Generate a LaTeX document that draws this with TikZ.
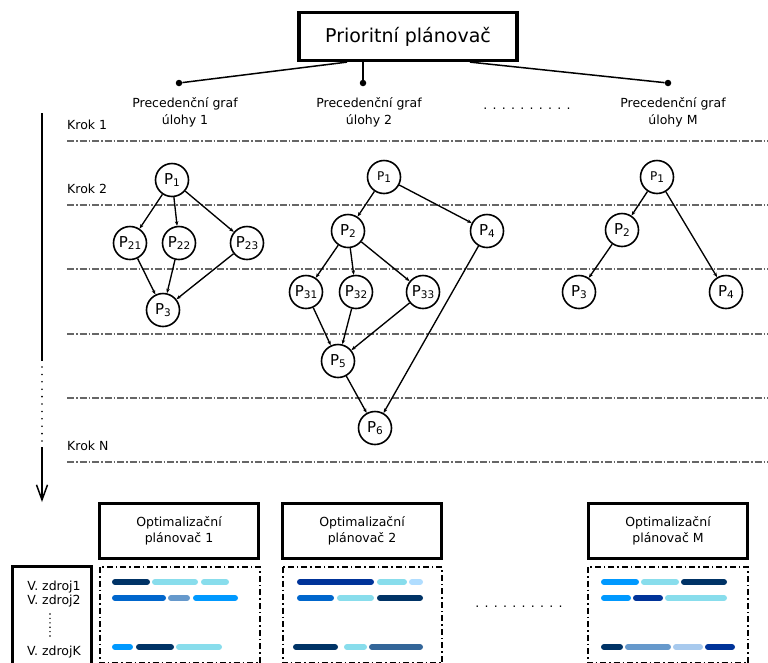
\documentclass[tikz,border=0pt]{standalone}
\usepackage{fontspec}
\setmainfont{DejaVu Sans}
\usetikzlibrary{arrows.meta}

\definecolor{navy}{HTML}{003366}
\definecolor{royal}{HTML}{003399}
\definecolor{midblue}{HTML}{0066CC}
\definecolor{brightblue}{HTML}{0099FF}
\definecolor{steel}{HTML}{6699CC}
\definecolor{slate}{HTML}{336699}
\definecolor{cyanlight}{HTML}{88DDEC}
\definecolor{paleblue}{HTML}{B0DDFF}
\definecolor{palesteel}{HTML}{A8CAEE}
\definecolor{rulegray}{HTML}{666666}

% task label: P with a lowered index
\newcommand\Ptask[1]{P\raisebox{-0.32ex}{\fontsize{10.5}{10.5}\selectfont #1}}
% one scheduled interval on a resource line
\newcommand\gbar[4]{\draw[bar,#1] (#2+3,#4) -- (#3-3,#4);}

\begin{document}
\begin{tikzpicture}[x=1pt,y=-1pt,
  task/.style={circle,draw,line width=1.6pt,minimum size=33pt,inner sep=0pt,
    font=\fontsize{15}{15}\selectfont},
  smalltask/.style={task,font=\fontsize{12}{12}\selectfont},
  edge/.style={line width=1.35pt,-{Stealth[length=4.5pt,width=3.5pt]}},
  rule/.style={rulegray,line width=1.1pt,dash pattern=on 7pt off 2pt on 1.5pt off 2pt},
  txt/.style={font=\fontsize{12.5}{17}\selectfont,align=center,inner sep=0pt},
  optbox/.style={draw,line width=3pt,minimum width=159pt,minimum height=55pt,
    align=center,font=\fontsize{12.5}{16}\selectfont},
  slot/.style={draw,line width=1.8pt,dash pattern=on 6pt off 3pt on 1.5pt off 3pt},
  bar/.style={line width=6pt,line cap=round},
  hub/.style={circle,fill,inner sep=0pt,minimum size=6.5pt},
  wire/.style={line width=1.5pt}]
\useasboundingbox (0,0) rectangle (768,662);

% ---- priority scheduler and its task graphs
\node[draw,line width=3.2pt,minimum width=218pt,minimum height=48pt,
  font=\fontsize{19}{19}\selectfont] (top) at (408,36.5) {Prioritní plánovač};
\node[hub] (d1) at (179,83) {};
\node[hub] (d2) at (363,83) {};
\node[hub] (dM) at (668,83) {};
\draw[wire] ([xshift=-61pt]top.south) -- (d1);
\draw[wire] ([xshift=-45pt]top.south) -- (d2);
\draw[wire] ([xshift=62pt]top.south) -- (dM);

\node[txt] (g1) at (185,112.5) {Precedenční graf\\úlohy 1};
\node[txt] (g2) at (369,112.5) {Precedenční graf\\úlohy 2};
\node[txt] (gM) at (673,112.5) {Precedenční graf\\úlohy M};
\node[txt,anchor=base] (gdots) at (527,109.5) {. . . . . . . . . .};

% ---- step boundaries
\foreach \y in {141,205,269,334,398,462}
  \draw[rule] (67,\y) -- (768,\y);
\node[txt,anchor=west] (k1) at (67,125) {Krok 1};
\node[txt,anchor=west] (k2) at (67,189) {Krok 2};
\node[txt,anchor=west] (kN) at (67,446) {Krok N};

% ---- time axis
\coordinate (ax0) at (42,113);
\coordinate (ax1) at (42,361);
\coordinate (ax2) at (42,367);
\coordinate (ax3) at (42,441);
\coordinate (ax4) at (42,447);
\coordinate (ax5) at (42,502);
\draw[wire] (ax0) -- (ax1);
\draw[line width=1.8pt,line cap=round,dash pattern=on 0pt off 7.4pt] (ax2) -- (ax3);
\draw[wire,-{Straight Barb[length=15pt,width=11pt,line width=1.5pt]}] (ax4) -- (ax5);

% ---- graph of task 1
\node[task] (a1)  at (172,180) {\Ptask{1}};
\node[task] (a21) at (130,243) {\Ptask{21}};
\node[task] (a22) at (179,243) {\Ptask{22}};
\node[task] (a23) at (247,243) {\Ptask{23}};
\node[task] (a3)  at (163,310) {\Ptask{3}};
\draw[edge] (a1) -- (a21);
\draw[edge] (a1) -- (a22);
\draw[edge] (a1) -- (a23);
\draw[edge] (a21) -- (a3);
\draw[edge] (a22) -- (a3);
\draw[edge] (a23) -- (a3);

% ---- graph of task 2
\node[smalltask] (b1) at (384,177) {\Ptask{1}};
\node[task] (b2)  at (348,231) {\Ptask{2}};
\node[task] (b4)  at (487,231) {\Ptask{4}};
\node[task] (b31) at (306,292) {\Ptask{31}};
\node[task] (b32) at (356,292) {\Ptask{32}};
\node[task] (b33) at (423,292) {\Ptask{33}};
\node[task] (b5)  at (338,361) {\Ptask{5}};
\node[task] (b6)  at (375,428) {\Ptask{6}};
\draw[edge] (b1) -- (b2);
\draw[edge] (b1) -- (b4);
\draw[edge] (b2) -- (b31);
\draw[edge] (b2) -- (b32);
\draw[edge] (b2) -- (b33);
\draw[edge] (b31) -- (b5);
\draw[edge] (b32) -- (b5);
\draw[edge] (b33) -- (b5);
\draw[edge] (b5) -- (b6);
\draw[edge] (b4) -- (b6);

% ---- graph of task M
\node[smalltask] (c1) at (657,177) {\Ptask{1}};
\node[task] (c2) at (622,230) {\Ptask{2}};
\node[task] (c3) at (579,292) {\Ptask{3}};
\node[task] (c4) at (726,292) {\Ptask{4}};
\draw[edge] (c1) -- (c2);
\draw[edge] (c1) -- (c4);
\draw[edge] (c2) -- (c3);

% ---- optimisation schedulers
\node[optbox] (o1) at (179,531) {Optimalizační\\plánovač 1};
\node[optbox] (o2) at (362,531) {Optimalizační\\plánovač 2};
\node[optbox] (oM) at (668,531) {Optimalizační\\plánovač M};
\node[txt,anchor=base] (odots) at (519,607.5) {. . . . . . . . . .};

% ---- resources
\draw[line width=3pt] (12,566) rectangle (91,664);
\node[txt,font=\fontsize{12.5}{12.5}\selectfont] (r1) at (54,587) {V. zdroj1};
\node[txt,font=\fontsize{12.5}{12.5}\selectfont] (r2) at (54,601) {V. zdroj2};
\node[txt,font=\fontsize{12.5}{12.5}\selectfont] (rK) at (54,652) {V. zdrojK};
\draw[line width=1.6pt,line cap=round,dash pattern=on 0pt off 4.4pt] (50,614) -- (50,636);

% ---- resource allocation of each scheduler
\draw[slot] (100,567) rectangle (260,663);
\draw[slot] (283,567) rectangle (442,663);
\draw[slot] (588,567) rectangle (748,663);

\gbar{navy}{112}{150}{582}
\gbar{cyanlight}{152}{198}{582}
\gbar{cyanlight}{201}{229}{582}
\gbar{midblue}{112}{166}{598}
\gbar{steel}{168}{190}{598}
\gbar{brightblue}{193}{238}{598}
\gbar{brightblue}{112}{133}{647}
\gbar{navy}{136}{174}{647}
\gbar{cyanlight}{176}{222}{647}

\gbar{royal}{297}{374}{582}
\gbar{cyanlight}{377}{407}{582}
\gbar{paleblue}{409}{423}{582}
\gbar{midblue}{297}{334}{598}
\gbar{cyanlight}{337}{374}{598}
\gbar{navy}{377}{423}{598}
\gbar{navy}{293}{338}{647}
\gbar{cyanlight}{344}{367}{647}
\gbar{slate}{369}{423}{647}

\gbar{brightblue}{601}{639}{582}
\gbar{cyanlight}{641}{679}{582}
\gbar{navy}{681}{727}{582}
\gbar{brightblue}{601}{631}{598}
\gbar{royal}{633}{663}{598}
\gbar{cyanlight}{665}{727}{598}
\gbar{navy}{601}{623}{647}
\gbar{steel}{625}{671}{647}
\gbar{palesteel}{673}{703}{647}
\gbar{royal}{705}{735}{647}
\end{tikzpicture}
\end{document}
